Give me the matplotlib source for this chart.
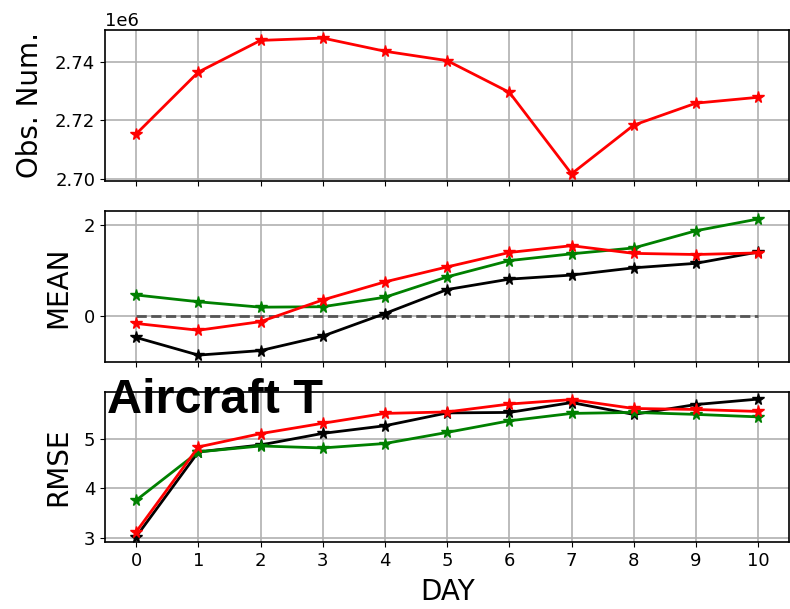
import numpy as np
import matplotlib
matplotlib.use("Agg")
import matplotlib.pyplot as plt

days = list(range(11))

obs_num = [2.7153e6, 2.7364e6, 2.7472e6, 2.7480e6, 2.7435e6, 2.7403e6,
           2.7295e6, 2.7017e6, 2.7183e6, 2.7258e6, 2.7278e6]

mean_black = [-0.48, -0.87, -0.77, -0.45, 0.05, 0.58, 0.81, 0.90, 1.06, 1.16, 1.41]
mean_green = [0.46, 0.31, 0.19, 0.20, 0.41, 0.86, 1.22, 1.37, 1.50, 1.88, 2.14]
mean_red = [-0.17, -0.32, -0.13, 0.35, 0.75, 1.08, 1.40, 1.55, 1.38, 1.355, 1.39]

rmse_black = [3.02, 4.74, 4.88, 5.115, 5.27, 5.53, 5.54, 5.74, 5.50, 5.70, 5.81]
rmse_green = [3.76, 4.74, 4.86, 4.82, 4.91, 5.135, 5.37, 5.52, 5.54, 5.50, 5.45]
rmse_red = [3.12, 4.84, 5.11, 5.32, 5.52, 5.55, 5.71, 5.80, 5.62, 5.60, 5.56]

plt.rcParams["font.family"] = ["DejaVu Sans"]
plt.rcParams["axes.linewidth"] = 1.2
plt.rcParams["xtick.labelsize"] = 13
plt.rcParams["ytick.labelsize"] = 13
plt.rcParams["axes.labelsize"] = 20
plt.rcParams["axes.labelpad"] = 8

fig = plt.figure(figsize=(7.9, 6.09), dpi=100)

left, width = 0.133, 0.866
ax1 = fig.add_axes([left, 0.703, width, 0.248])
ax2 = fig.add_axes([left, 0.405, width, 0.248])
ax3 = fig.add_axes([left, 0.1095, width, 0.2473])

style = dict(marker="*", markersize=8.5, linewidth=2)

# 观测数量
ax1.plot(days, obs_num, color="r", **style)
ax1.set_ylim(2.6993e6, 2.7508e6)
ax1.set_yticks([2.70e6, 2.72e6, 2.74e6])
ax1.set_ylabel("Obs. Num.")

# MEAN
ax2.hlines(0, days[0], days[-1], colors="#555555", linestyles="--", linewidth=2)
ax2.plot(days, mean_black, color="k", **style)
ax2.plot(days, mean_green, color="g", **style)
ax2.plot(days, mean_red, color="r", **style)
ax2.set_ylim(-1.03, 2.31)
ax2.set_yticks([0, 2])
ax2.set_ylabel("MEAN")

# RMSE
ax3.plot(days, rmse_black, color="k", **style)
ax3.plot(days, rmse_green, color="g", **style)
ax3.plot(days, rmse_red, color="r", **style)
ax3.set_ylim(2.907, 5.96)
ax3.set_yticks([3, 4, 5])
ax3.set_ylabel("RMSE")
ax3.set_xlabel("DAY", labelpad=6)

for ax in (ax1, ax2, ax3):
    ax.set_xlim(-0.5, 10.5)
    ax.set_xticks(days)
    ax.grid(True, color="#b0b0b0", linewidth=1.2)
    ax.set_axisbelow(True)
for ax in (ax1, ax2):
    ax.tick_params(labelbottom=False)

fig.text(0.136, 0.3225, "Aircraft T", fontsize=35, fontweight="bold",
         family=["Liberation Sans", "DejaVu Sans"], va="baseline", zorder=10)

fig.savefig("out.png", dpi=100)
